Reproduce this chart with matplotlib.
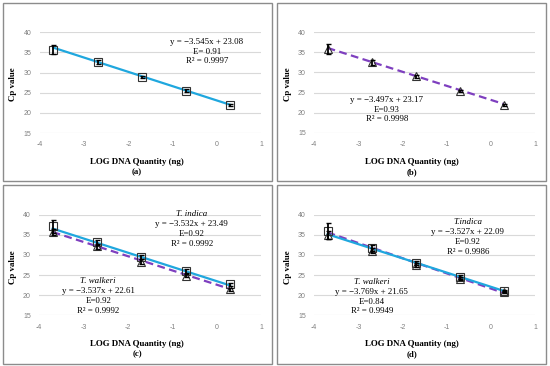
import matplotlib
matplotlib.use("Agg")
import matplotlib.pyplot as plt
from matplotlib.patches import Rectangle
import numpy as np

plt.rcParams['axes.unicode_minus'] = False

# ---- data ----
log_qty = [-3.699, -2.699, -1.699, -0.699, 0.301]

a_indica = [35.7, 32.65, 28.9, 25.5, 22.0]
a_indica_err = [1.2, 0.5, 0.3, 0.3, 0.3]

b_walkeri = [35.8, 32.5, 29.0, 25.4, 21.9]
b_walkeri_err = [1.3, 0.6, 0.3, 0.3, 0.2]

c_indica = [37.1, 33.1, 29.6, 26.0, 22.7]
c_indica_err = [1.6, 0.6, 0.5, 0.4, 0.4]
c_walkeri = [35.7, 32.1, 28.3, 24.8, 21.5]
c_walkeri_err = [0.8, 0.6, 0.6, 0.4, 0.4]

d_indica = [35.9, 31.7, 28.1, 24.5, 21.0]
d_indica_err = [2.0, 0.7, 0.5, 0.4, 0.3]
d_walkeri = [35.0, 31.1, 27.6, 24.1, 20.8]
d_walkeri_err = [1.0, 0.6, 0.5, 0.4, 0.3]

# trendline coefficients (slope, intercept) read from the equations
fit_a = (-3.545, 23.08)
fit_b = (-3.497, 23.17)
fit_c_ind = (-3.532, 23.49)
fit_c_wal = (-3.537, 22.61)
fit_d_ind = (-3.527, 22.09)
fit_d_wal = (-3.769, 21.65)

x_ticks = [-4, -3, -2, -1, 0, 1]
y_ticks = [15, 20, 25, 30, 35, 40]

W, H = 550, 366
BLUE = "#1fa7de"
PURPLE = "#7e3fbf"
SERIF = "Liberation Serif"

fig = plt.figure(figsize=(5.5, 3.66), dpi=100)


def px_axes(l, t, r, b):
    return fig.add_axes([l / W, 1 - b / H, (r - l) / W, (b - t) / H])


def style(ax):
    ax.set_xlim(-4, 1)
    ax.set_ylim(15, 40)
    ax.set_xticks(x_ticks)
    ax.set_yticks(y_ticks)
    for s in ax.spines.values():
        s.set_visible(False)
    ax.grid(True, axis='y', color='#d9d9d9', lw=0.8)
    ax.set_axisbelow(True)
    ax.tick_params(length=0, labelsize=5, labelcolor='#808080', pad=6)
    for lab in ax.get_xticklabels() + ax.get_yticklabels():
        lab.set_fontfamily('Liberation Sans')


def trend(ax, fit, color, dashed, z):
    xs = np.array([log_qty[0], log_qty[-1]])
    ys = fit[0] * xs + fit[1]
    if dashed:
        ax.plot(xs, ys, color=color, lw=1.6, dashes=(3.5, 2), zorder=z)
    else:
        ax.plot(xs, ys, color=color, lw=1.6, zorder=z)


def pts(ax, y, err, marker):
    ax.errorbar(log_qty, y, yerr=err, fmt='none', ecolor='black', elinewidth=1.3,
                capsize=1.8, capthick=1.0, zorder=5)
    ax.plot(log_qty, y, linestyle='none', marker=marker, ms=5.8 if marker == 's' else 6.0,
            mfc='none', mec='#333333', mew=0.8, zorder=4)


def label_panel(cx, ax_top, ax_bot, letter, ylab_x):
    fig.text(ylab_x / W, 1 - ((ax_top + ax_bot) / 2 + 2) / H, "Cp value", rotation=90,
             ha='center', va='center', fontfamily=SERIF, fontweight='bold', fontsize=6.4)
    fig.text(cx / W, 1 - (ax_bot + 29) / H, "LOG DNA Quantity (ng)", ha='center', va='center',
             fontfamily=SERIF, fontweight='bold', fontsize=6.4)
    fig.text(cx / W, 1 - (ax_bot + 39) / H, "(" + letter + ")", ha='center', va='center',
             fontfamily=SERIF, fontweight='bold', fontsize=6.4)


def eq_lines(cx, ys, lines, italic_first=False):
    for i, (yy, s) in enumerate(zip(ys, lines)):
        fig.text(cx / W, 1 - yy / H, s, ha='center', va='center', fontfamily=SERIF,
                 fontsize=6.4, style='italic' if (italic_first and i == 0) else 'normal')


# panel borders
for (l, t, r, b) in [(3, 3, 272, 181), (277, 3, 546, 181), (3, 185, 272, 364), (277, 185, 546, 364)]:
    fig.add_artist(Rectangle((l / W, 1 - b / H), (r - l) / W, (b - t) / H, transform=fig.transFigure,
                             fill=False, edgecolor='#8c8c8c', lw=1.0))

# (a)
ax = px_axes(40, 32.3, 261, 133)
style(ax)
trend(ax, fit_a, BLUE, False, 3)
pts(ax, a_indica, a_indica_err, 's')
label_panel(137, 32.3, 133, 'a', 13)
eq_lines(207, [42, 52, 61], ["y = \u22123.545x + 23.08", "E= 0.91", "R\u00b2 = 0.9997"])

# (b)
ax = px_axes(314.3, 32.3, 535, 132.7)
style(ax)
trend(ax, fit_b, PURPLE, True, 3)
pts(ax, b_walkeri, b_walkeri_err, '^')
label_panel(412, 32.3, 132.7, 'b', 288)
eq_lines(386.7, [100, 109.5, 119], ["y = \u22123.497x + 23.17", "E=0.93", "R\u00b2 = 0.9998"])

# (c)
ax = px_axes(39.3, 214.7, 261, 315.3)
style(ax)
trend(ax, fit_c_wal, PURPLE, True, 3)
trend(ax, fit_c_ind, BLUE, False, 3.1)
pts(ax, c_walkeri, c_walkeri_err, '^')
pts(ax, c_indica, c_indica_err, 's')
label_panel(137, 214.7, 315.3, 'c', 13)
eq_lines(191.7, [214.3, 224.5, 234.5, 244.5], ["T. indica", "y = \u22123.532x + 23.49", "E=0.92", "R\u00b2 = 0.9992"], True)
eq_lines(98.3, [280.7, 291, 301, 310.7], ["T. walkeri", "y = \u22123.537x + 22.61", "E=0.92", "R\u00b2 = 0.9992"], True)

# (d)
ax = px_axes(314.3, 214.7, 535, 315.3)
style(ax)
trend(ax, fit_d_wal, PURPLE, True, 3)
trend(ax, fit_d_ind, BLUE, False, 3.1)
pts(ax, d_walkeri, d_walkeri_err, '^')
pts(ax, d_indica, d_indica_err, 's')
label_panel(412, 214.7, 315.3, 'd', 288)
eq_lines(467.7, [222.3, 232.3, 242.3, 251.5], ["T.indica", "y = \u22123.527x + 22.09", "E=0.92", "R\u00b2 = 0.9986"], True)
eq_lines(371.7, [282, 292.3, 302, 311.3], ["T. walkeri", "y = \u22123.769x + 21.65", "E=0.84", "R\u00b2 = 0.9949"], True)

fig.savefig("out.png", dpi=100)
